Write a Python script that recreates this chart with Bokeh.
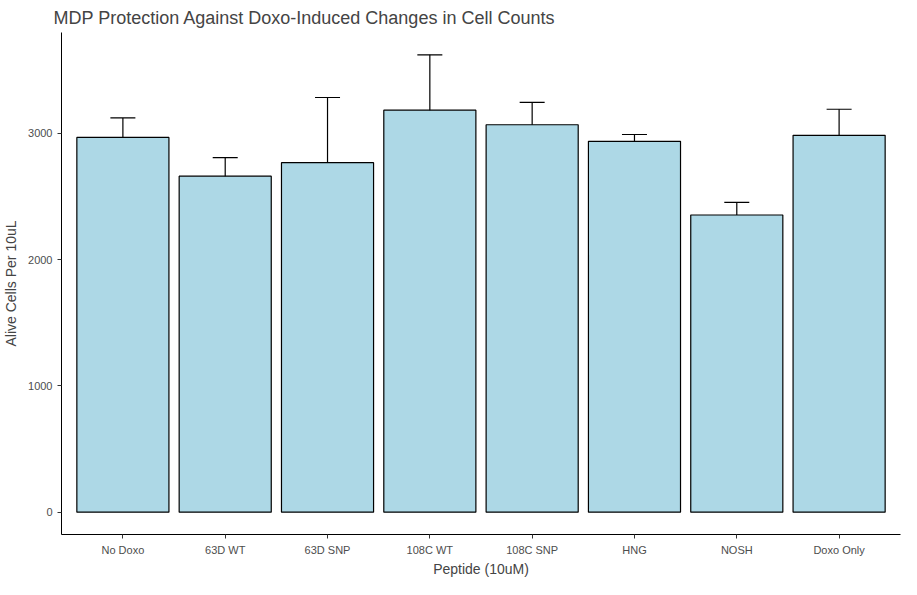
from bokeh.plotting import figure
from bokeh.models import ColumnDataSource, FixedTicker, Range1d, Whisker
from bokeh.embed import file_html
from bokeh.resources import INLINE

categories = ["No Doxo", "63D WT", "63D SNP", "108C WT", "108C SNP", "HNG", "NOSH", "Doxo Only"]
means = [2969, 2662, 2769, 3185, 3069, 2938, 2354, 2985]
upper = [3123, 2808, 3285, 3623, 3246, 2992, 2454, 3192]
lower = [2815, 2523, 2254, 2754, 2892, 2892, 2246, 2777]
yticks = [0, 1000, 2000, 3000]

xs = list(range(len(categories)))
src = ColumnDataSource(dict(x=xs, top=means, up=upper, lo=lower))

p = figure(width=901, height=579, output_backend="svg", toolbar_location=None,
           x_range=Range1d(-0.6, 7.6), y_range=Range1d(-177, 3800),
           min_border_left=53, min_border_right=1, min_border_top=24, min_border_bottom=38,
           title="MDP Protection Against Doxo-Induced Changes in Cell Counts")
p.title.text_font = "Liberation Sans"
p.title.text_font_size = "18px"
p.title.text_font_style = "normal"
p.title.offset = -8

p.vbar(x="x", top="top", bottom=0, width=0.9, source=src,
       fill_color="#ADD8E6", line_color="black", line_width=1.2)
w = Whisker(base="x", upper="up", lower="lo", source=src, line_color="black", line_width=1.2)
w.upper_head.size = 25
w.lower_head.size = 25
w.upper_head.line_width = 1.2
w.lower_head.line_width = 1.2
p.add_layout(w)

p.xgrid.visible = False
p.ygrid.visible = False
p.outline_line_color = None
p.xaxis.ticker = FixedTicker(ticks=xs)
p.xaxis.major_label_overrides = {i: c for i, c in enumerate(categories)}
p.yaxis.ticker = FixedTicker(ticks=yticks)
for ax in (p.xaxis, p.yaxis):
    ax.minor_tick_line_color = None
    ax.major_tick_in = 0
    ax.major_tick_out = 4
    ax.axis_line_color = "black"
    ax.major_tick_line_color = "#333333"
    ax.major_label_text_font = "Liberation Sans"
    ax.major_label_text_font_size = "11px"
    ax.major_label_text_color = "#4d4d4d"
    ax.axis_label_text_font = "Liberation Sans"
    ax.axis_label_text_font_size = "14px"
    ax.axis_label_text_font_style = "normal"
p.xaxis.axis_label = "Peptide (10uM)"
p.yaxis.axis_label = "Alive Cells Per 10uL"
p.xaxis.axis_label_standoff = 2
p.yaxis.axis_label_standoff = 6

open("out.html", "w").write(file_html(p, INLINE))
